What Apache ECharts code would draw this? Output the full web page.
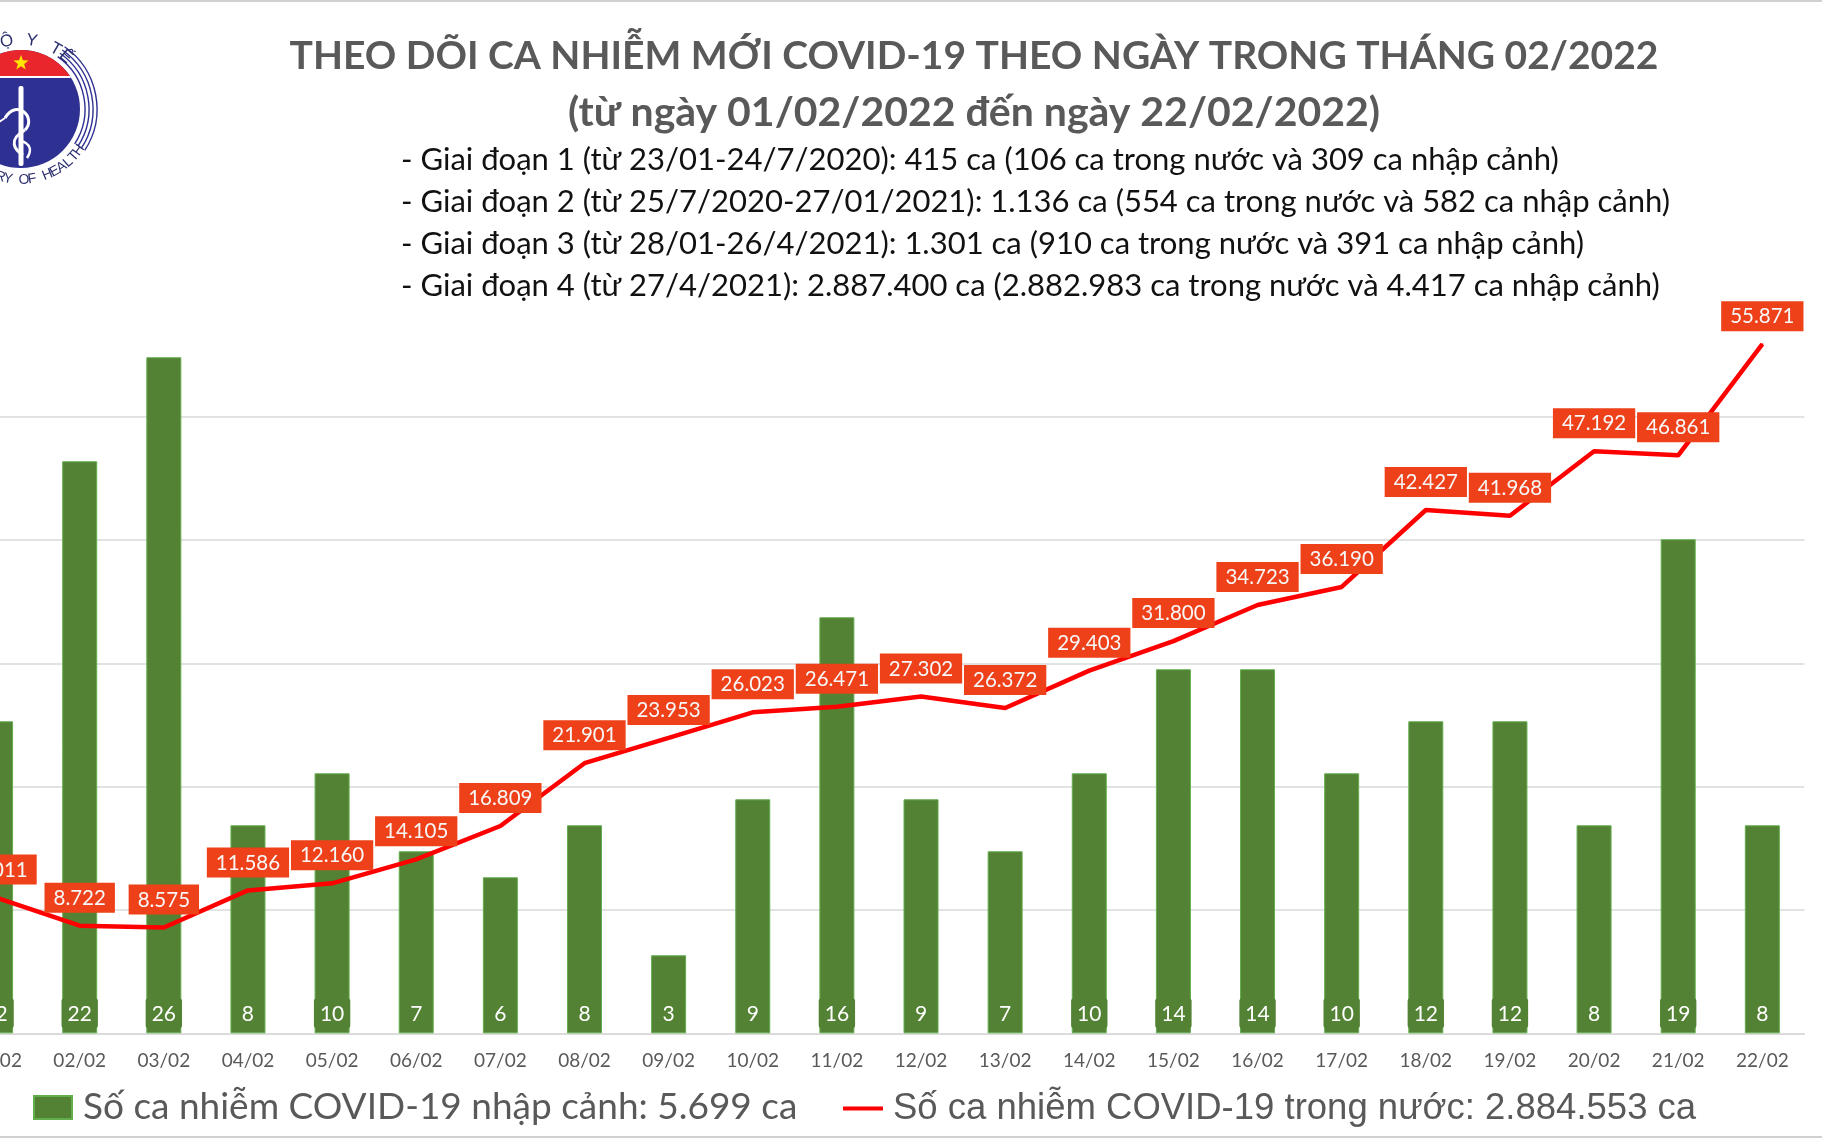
<!DOCTYPE html>
<html>
<head>
<meta charset="utf-8">
<script src="https://cdn.jsdelivr.net/npm/echarts@6/dist/echarts.min.js"></script>
<style>
html,body{margin:0;padding:0;background:#fff;overflow:hidden;}
#chart{width:1822px;height:1139px;}
</style>
</head>
<body>
<div id="chart"></div>
<script>
const categories = ['01/02','02/02','03/02','04/02','05/02','06/02','07/02','08/02','09/02','10/02','11/02','12/02','13/02','14/02','15/02','16/02','17/02','18/02','19/02','20/02','21/02','22/02'];
const importedCases = [12,22,26,8,10,7,6,8,3,9,16,9,7,10,14,14,10,12,12,8,19,8];
const domesticCases = [11011,8722,8575,11586,12160,14105,16809,21901,23953,26023,26471,27302,26372,29403,31800,34723,36190,42427,41968,47192,46861,55871];
const barSeriesName = 'Số ca nhiễm COVID-19 nhập cảnh: 5.699 ca';
const lineSeriesName = 'Số ca nhiễm COVID-19 trong nước: 2.884.553 ca';
const titleLines = ['THEO DÕI CA NHIỄM MỚI COVID-19 THEO NGÀY TRONG THÁNG 02/2022', '(từ ngày 01/02/2022 đến ngày 22/02/2022)'];
const subtitleLines = [
  '- Giai đoạn 1 (từ 23/01-24/7/2020): 415 ca (106 ca trong nước và 309 ca nhập cảnh)',
  '- Giai đoạn 2 (từ 25/7/2020-27/01/2021): 1.136 ca (554 ca trong nước và 582 ca nhập cảnh)',
  '- Giai đoạn 3 (từ 28/01-26/4/2021): 1.301 ca (910 ca trong nước và 391 ca nhập cảnh)',
  '- Giai đoạn 4 (từ 27/4/2021): 2.887.400 ca (2.882.983 ca trong nước và 4.417 ca nhập cảnh)'
];
const logoTopText = 'BỘ Y TẾ';
const logoBottomText = 'MINISTRY OF HEALTH';

function fmt(n){ return String(n).replace(/\B(?=(\d{3})+(?!\d))/g, '.'); }

const chart = echarts.init(document.getElementById('chart'), null, {renderer:'canvas'});

// Logo graphics
const LCX = 21, LCY = 109, LR = 59;
const navy = '#2E3192';
const logo = [];
logo.push({type:'circle', shape:{cx:LCX, cy:LCY, r:LR}, style:{fill:navy}});
(function(){
  const chordY = 76; const pts = [];
  const a0 = Math.asin((LCY - chordY)/LR);
  for (let i=0;i<=40;i++){
    const a = a0 + (Math.PI - 2*a0)*i/40;
    pts.push([LCX + LR*Math.cos(a), LCY - LR*Math.sin(a)]);
  }
  logo.push({type:'polygon', shape:{points:pts}, style:{fill:'#E8262B'}});
  const hw = Math.sqrt(LR*LR-(LCY-chordY-1)*(LCY-chordY-1));
  logo.push({type:'line', shape:{x1:LCX-hw, y1:chordY+1, x2:LCX+hw, y2:chordY+1}, style:{stroke:'#fff', lineWidth:2}});
})();
(function(){
  const pts=[]; const sx=LCX, sy=63, ro=8, ri=3.3;
  for(let i=0;i<10;i++){
    const r = i%2===0?ro:ri; const a = -Math.PI/2 + i*Math.PI/5;
    pts.push([sx + r*Math.cos(a), sy + r*Math.sin(a)]);
  }
  logo.push({type:'polygon', shape:{points:pts}, style:{fill:'#FFE600'}});
})();
logo.push({type:'rect', shape:{x:LCX-2.5, y:86, width:5, height:80, r:2}, style:{fill:'#fff'}});
logo.push({type:'bezierCurve', shape:{x1:LCX-16, y1:118, x2:LCX+4, y2:130, cpx1:LCX-4, cpy1:98, cpx2:LCX+16, cpy2:118}, style:{stroke:'#fff', lineWidth:3, fill:null}});
logo.push({type:'bezierCurve', shape:{x1:LCX+4, y1:130, x2:LCX+2, y2:155, cpx1:LCX-14, cpy1:140, cpx2:LCX-6, cpy2:150}, style:{stroke:'#fff', lineWidth:3, fill:null}});
logo.push({type:'bezierCurve', shape:{x1:LCX-2, y1:140, x2:LCX+6, y2:158, cpx1:LCX+12, cpy1:144, cpx2:LCX+10, cpy2:152}, style:{stroke:'#fff', lineWidth:2.5, fill:null}});
logo.push({type:'line', shape:{x1:LCX-16, y1:118, x2:LCX-22, y2:122}, style:{stroke:'#fff', lineWidth:2}});
[64,68,72,76].forEach(function(r){
  logo.push({type:'arc', shape:{cx:LCX, cy:LCY, r:r, startAngle:-55*Math.PI/180, endAngle:33*Math.PI/180, clockwise:true}, style:{stroke:navy, lineWidth:1.4, fill:null}});
});
(function(){
  const chars = Array.from(logoTopText); const step = 10.5, center = 81, r = 69;
  chars.forEach(function(c,i){
    const th = center + (3 - i)*step; const rad = th*Math.PI/180;
    logo.push({type:'text', x: LCX + r*Math.cos(rad), y: LCY - r*Math.sin(rad), rotation:(th-90)*Math.PI/180,
      style:{text:c, fill:'#2b2f6e', font:'17px "Liberation Sans"', align:'center', verticalAlign:'middle'}});
  });
})();
(function(){
  const chars = Array.from(logoBottomText); const r = 71;
  chars.forEach(function(c,i){
    const ph = -146 + i*6.5; const rad = ph*Math.PI/180;
    logo.push({type:'text', x: LCX + r*Math.cos(rad), y: LCY - r*Math.sin(rad), rotation:(ph+90)*Math.PI/180,
      style:{text:c, fill:'#2b2f6e', font:'14px "Liberation Sans"', align:'center', verticalAlign:'middle'}});
  });
})();

const titles = [];
titles.push({text:titleLines[0], left:974, top:56, textAlign:'center', textVerticalAlign:'middle', padding:0,
  textStyle:{fontFamily:'Lato', fontWeight:'bold', fontSize:39, color:'#595959'}});
titles.push({text:titleLines[1], left:974, top:113, textAlign:'center', textVerticalAlign:'middle', padding:0,
  textStyle:{fontFamily:'Lato', fontWeight:'bold', fontSize:41, color:'#595959'}});
const subY = [160, 202, 244, 286];
subtitleLines.forEach(function(t,i){
  titles.push({text:t, left:401, top:subY[i], textAlign:'left', textVerticalAlign:'middle', padding:0,
    textStyle:{fontFamily:'Lato', fontWeight:'normal', fontSize:31, color:'#111111'}});
});

const option = {
  backgroundColor:'#ffffff',
  animation:false,
  title: titles,
  graphic: [
    {type:'group', children: logo},
    {type:'line', shape:{x1:0,y1:1,x2:1822,y2:1}, style:{stroke:'#d0d0d0', lineWidth:2}},
    {type:'line', shape:{x1:0,y1:1137,x2:1822,y2:1137}, style:{stroke:'#d0d0d0', lineWidth:2}}
  ],
  legend: [
    {data:[barSeriesName], left:33, top:1089, padding:0, icon:'rect', itemWidth:38, itemHeight:23,
     textStyle:{fontFamily:'Lato', fontSize:37, color:'#595959', padding:[0,0,0,6]}},
    {data:[lineSeriesName], left:843, top:1090, padding:0, icon:'rect', itemWidth:40, itemHeight:4,
     textStyle:{fontFamily:'Liberation Sans', fontSize:36.5, color:'#595959', padding:[0,0,0,5]}}
  ],
  grid: {left:-46.5, right:17.6, top:293.3, bottom:105.7, containLabel:false, outerBoundsMode:'none'},
  xAxis: {
    type:'category', data:categories,
    axisLine:{show:true, lineStyle:{color:'#d9d9d9', width:1.5}},
    axisTick:{show:false},
    axisLabel:{fontFamily:'Lato', fontSize:19, color:'#595959', margin:18, interval:0}
  },
  yAxis: [
    {type:'value', min:0, max:28.46, show:false, splitLine:{show:false}},
    {type:'value', min:0, max:60000, interval:10000, axisLabel:{show:false}, axisLine:{show:false}, axisTick:{show:false},
     splitLine:{show:true, showMaxLine:false, lineStyle:{color:'#d9d9d9', width:1.5}}}
  ],
  series: [
    {name:barSeriesName, type:'bar', yAxisIndex:0, data:importedCases, barWidth:35,
     itemStyle:{color:'#548235', borderColor:'#62ad4c', borderWidth:1},
     label:{show:true, position:'insideBottom', distance:5, fontFamily:'Lato', fontSize:21, color:'#ffffff',
       backgroundColor:'#548235', padding:[5,6,4,6], borderRadius:3}},
    {name:lineSeriesName, type:'line', yAxisIndex:1, data:domesticCases, symbol:'circle', symbolSize:2, showSymbol:true, z:5,
     lineStyle:{color:'#FF0000', width:4.5}, itemStyle:{color:'#FF0000'},
     label:{show:true, position:'top', distance:12, fontFamily:'Lato', fontSize:20.5, color:'#f7f7f7',
       backgroundColor:'#EE4019', padding:[5,9,4,9], formatter:function(p){return fmt(p.value);}}}
  ]
};
chart.setOption(option);
</script>
</body>
</html>
